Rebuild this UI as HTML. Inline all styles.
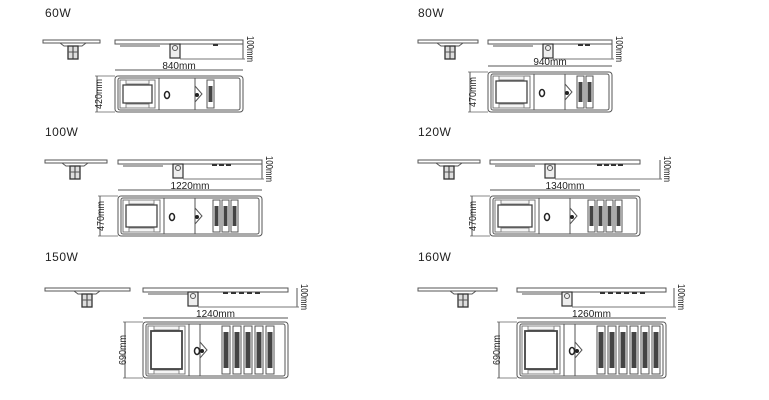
<!DOCTYPE html>
<html><head><meta charset="utf-8"><style>
body{margin:0;background:#fff;width:769px;height:400px;overflow:hidden}
svg{display:block}
text{font-family:"Liberation Sans",sans-serif;fill:#222}
</style></head><body>
<svg id="s" width="769" height="400" viewBox="0 0 769 400" xmlns="http://www.w3.org/2000/svg"></svg>
<script>
const B=[
 {lab:"60W",lx:45,ly:17,sx1:43,sx2:100,sy:40,bx:68,x1:115,x2:243,ly2:40,dim:"840mm",dy:70,ty1:76,ty2:112,h:"420mm",hx:98,n:1,mx:213,px2:155,split:195},
 {lab:"80W",lx:418,ly:17,sx1:418,sx2:478,sy:40,bx:445,x1:488,x2:612,ly2:40,dim:"940mm",dy:66,ty1:72,ty2:112,h:"470mm",hx:472,n:2,mx:578,px2:530,split:565},
 {lab:"100W",lx:45,ly:136,sx1:45,sx2:107,sy:160,bx:70,x1:118,x2:262,ly2:160,dim:"1220mm",dy:190,ty1:196,ty2:236,h:"470mm",hx:100,n:3,mx:212,px2:160,split:195},
 {lab:"120W",lx:418,ly:136,sx1:418,sx2:480,sy:160,bx:444,x1:490,x2:660,ly2:160,dim:"1340mm",dy:190,ty1:196,ty2:236,h:"470mm",hx:472,n:4,mx:597,px2:535,split:570,tx2:640},
 {lab:"150W",lx:45,ly:261,sx1:45,sx2:130,sy:288,bx:82,x1:143,x2:297,ly2:288,dim:"1240mm",dy:318,ty1:322,ty2:378,h:"690mm",hx:122,n:5,mx:223,px2:185,split:200,tx1:143,tx2:288,big:1},
 {lab:"160W",lx:418,ly:261,sx1:418,sx2:497,sy:288,bx:458,x1:517,x2:674,ly2:288,dim:"1260mm",dy:318,ty1:322,ty2:378,h:"690mm",hx:496,n:6,mx:600,px2:560,split:575,tx2:666,big:1}
];
let o="";const st='stroke="#555" fill="none" stroke-width="1"';
for(const b of B){
 o+=`<text x="${b.lx}" y="${b.ly}" font-size="12" letter-spacing="0.5">${b.lab}</text>`;
 o+=`<rect x="${b.sx1}" y="${b.sy}" width="${b.sx2-b.sx1}" height="3" ${st}/>`;
 o+=`<path d="M${b.bx-8} ${b.sy+3}l4 3h${18}l4 -3" ${st}/>`;
 o+=`<rect x="${b.bx}" y="${b.sy+6}" width="10" height="13" fill="#ddd" stroke="#333" stroke-width="1.3"/><line x1="${b.bx+5}" y1="${b.sy+6}" x2="${b.bx+5}" y2="${b.sy+19}" stroke="#333"/><line x1="${b.bx}" y1="${b.sy+12}" x2="${b.bx+10}" y2="${b.sy+12}" stroke="#555"/>`;
 const tx2=b.tx2||b.x2;
 o+=`<rect x="${b.x1}" y="${b.ly2}" width="${tx2-b.x1}" height="4" ${st}/>`;
 o+=`<line x1="${b.x1+5}" y1="${b.ly2+6}" x2="${b.x1+45}" y2="${b.ly2+6}" stroke="#555"/>`;
 const bk=b.x1+(b.big?45:55);
 o+=`<rect x="${bk}" y="${b.ly2+4}" width="10" height="14" fill="#eee" stroke="#333" stroke-width="1.2"/><circle cx="${bk+5}" cy="${b.ly2+8}" r="2.5" ${st}/>`;
 for(let i=0;i<b.n;i++)o+=`<rect x="${b.mx+i*(b.big?8:7)}" y="${b.ly2+4}" width="5" height="2" fill="#333"/>`;
 o+=`<line x1="${b.x2}" y1="${b.ly2}" x2="${b.x2}" y2="${b.ly2+19}" stroke="#555"/><line x1="${bk+10}" y1="${b.ly2+19}" x2="${b.x2+2}" y2="${b.ly2+19}" stroke="#777"/>`;
 o+=`<text transform="translate(${b.x2+4},${b.ly2-4}) rotate(90)" font-size="10" textLength="26" lengthAdjust="spacingAndGlyphs">100mm</text>`;
 o+=`<line x1="${b.x1}" y1="${b.dy}" x2="${tx2}" y2="${b.dy}" stroke="#555"/>`;
 o+=`<text x="${(b.x1+tx2)/2}" y="${b.dy-1}" font-size="10" text-anchor="middle">${b.dim}</text>`;
 const t1=b.tx1||b.x1,h=b.ty2-b.ty1;
 o+=`<rect x="${t1}" y="${b.ty1}" width="${tx2-t1}" height="${h}" rx="3" ${st}/>`;
 o+=`<line x1="${t1-20}" y1="${b.ty1}" x2="${t1}" y2="${b.ty1}" stroke="#888"/><line x1="${t1-20}" y1="${b.ty2}" x2="${t1}" y2="${b.ty2}" stroke="#888"/><line x1="${t1-18}" y1="${b.ty1}" x2="${t1-18}" y2="${b.ty2}" stroke="#555"/>`;
 o+=`<text transform="translate(${b.hx+4},${(b.ty1+b.ty2)/2}) rotate(-90)" font-size="10" text-anchor="middle" textLength="30" lengthAdjust="spacingAndGlyphs">${b.h}</text>`;
 o+=`<rect x="${t1+3}" y="${b.ty1+2}" width="${tx2-t1-6}" height="${h-4}" rx="2" ${st}/>`;
 const p1=t1+5,pw=b.px2-p1;
 o+=`<rect x="${p1}" y="${b.ty1+4}" width="${pw}" height="${h-8}" stroke="#777" fill="none"/>`;
 o+=`<rect x="${p1+6}" y="${b.ty1+4}" width="${pw-12}" height="4" stroke="#888" fill="#f4f4f4"/><rect x="${p1+6}" y="${b.ty2-8}" width="${pw-12}" height="4" stroke="#888" fill="#f4f4f4"/>`;
 o+=`<rect x="${p1+3}" y="${b.ty1+9}" width="${pw-6}" height="${h-18}" fill="#fff" stroke="#444" stroke-width="${b.big?1.8:1.3}"/>`;
 o+=`<line x1="${b.px2+4}" y1="${b.ty1+2}" x2="${b.px2+4}" y2="${b.ty2-2}" stroke="#555"/><line x1="${b.split}" y1="${b.ty1+2}" x2="${b.split}" y2="${b.ty2-2}" stroke="#555"/>`;
 const cy=(b.ty1+b.ty2)/2;
 o+=`<ellipse cx="${b.px2+12}" cy="${cy+1}" rx="2.5" ry="3.5" fill="none" stroke="#222" stroke-width="1.5"/>`;
 o+=`<path d="M${b.split} ${cy-8}l7 8l-7 8" ${st}/><circle cx="${b.split+2}" cy="${cy+1}" r="2" fill="#222"/>`;
 const mw=b.big?8:7,gap=b.big?11:9;
 const ms=b.split+(b.big?22:(b.n<=2?12:18));
 for(let i=0;i<b.n;i++){const x=ms+i*gap;
  o+=`<rect x="${x}" y="${b.ty1+4}" width="${mw}" height="${h-8}" ${st}/>`;
  o+=`<rect x="${x+1.5}" y="${b.ty1+10}" width="${mw-3}" height="${h-20}" fill="#444"/>`;}
}
document.getElementById("s").innerHTML=o;
</script>
</body></html>
